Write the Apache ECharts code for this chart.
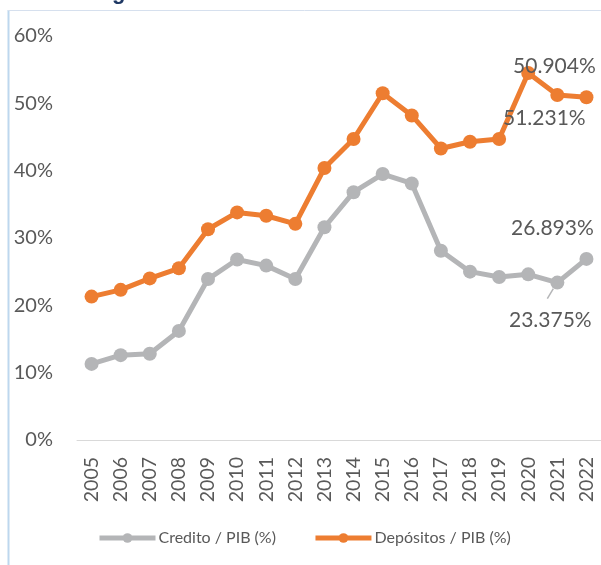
<!DOCTYPE html>
<html>
<head>
<meta charset="utf-8">
<script src="https://cdn.jsdelivr.net/npm/echarts@6/dist/echarts.min.js"></script>
<style>
html,body{margin:0;padding:0;background:#fff;}
#chart{width:601px;height:565px;}
</style>
</head>
<body>
<div id="chart"></div>
<script>
const years = ['2005','2006','2007','2008','2009','2010','2011','2012','2013','2014','2015','2016','2017','2018','2019','2020','2021','2022'];
const credito = [11.3, 12.6, 12.8, 16.2, 23.9, 26.8, 25.9, 23.9, 31.6, 36.8, 39.5, 38.1, 28.1, 25.0, 24.2, 24.6, 23.375, 26.893];
const depositos = [21.3, 22.3, 24.0, 25.5, 31.3, 33.8, 33.3, 32.1, 40.4, 44.7, 51.5, 48.2, 43.3, 44.3, 44.7, 54.5, 51.231, 50.904];
const yTicks = [0, 10, 20, 30, 40, 50, 60];

const FONT = 'Lato';
const TXT = '#595959';
const GRAY = '#B4B5B7';
const ORANGE = '#ED7D31';

function labelled(values, offsets) {
  return values.map((v, i) => {
    const off = offsets[i];
    if (!off) return v;
    return {
      value: v,
      label: {
        show: true,
        position: 'inside',
        offset: off,
        formatter: (p) => p.value.toFixed(3) + '%',
        color: TXT,
        fontFamily: FONT,
        fontSize: 21
      }
    };
  });
}

const chart = echarts.init(document.getElementById('chart'), null, {renderer: 'canvas'});
const baseGraphic = [
  {type: 'line', shape: {x1: 8.5, y1: 10, x2: 8.5, y2: 565}, style: {stroke: '#BDD7EE', lineWidth: 2}},
  {type: 'line', shape: {x1: 8, y1: 10.5, x2: 601, y2: 10.5}, style: {stroke: '#D6E0EE', lineWidth: 1}},
  {type: 'text', x: 112, y: -18, style: {text: 'g', font: 'bold 22px "Liberation Sans"', fill: '#1F3864', textVerticalAlign: 'top'}}
];
chart.setOption({
  animation: false,
  backgroundColor: '#fff',
  grid: {left: 77, right: -6, top: 36, bottom: 125},
  xAxis: {
    type: 'category',
    data: years,
    boundaryGap: true,
    axisLine: {show: true, lineStyle: {color: '#D9D9D9', width: 1}},
    axisTick: {show: false},
    axisLabel: {rotate: 90, margin: 17, color: TXT, fontFamily: FONT, fontSize: 19.5, interval: 0}
  },
  yAxis: {
    type: 'value',
    min: yTicks[0],
    max: yTicks[yTicks.length - 1],
    interval: 10,
    axisLine: {show: false},
    axisTick: {show: false},
    splitLine: {show: false},
    axisLabel: {margin: 24, color: TXT, fontFamily: FONT, fontSize: 20, formatter: '{value}%'}
  },
  legend: {
    left: 97,
    top: 530,
    padding: 0,
    itemWidth: 56,
    itemHeight: 12,
    itemGap: 37,
    lineStyle: {width: 5},
    textStyle: {color: TXT, fontFamily: FONT, fontSize: 16, padding: [0, 0, 0, -2]},
    data: ['Credito / PIB (%)', 'Depósitos / PIB (%)']
  },
  series: [
    {
      name: 'Credito / PIB (%)',
      type: 'line',
      data: labelled(credito, {16: [-7, 38], 17: [-34, -31]}),
      symbol: 'circle',
      symbolSize: 14,
      color: GRAY,
      lineStyle: {width: 5, color: GRAY},
      itemStyle: {color: GRAY},
      z: 2
    },
    {
      name: 'Depósitos / PIB (%)',
      type: 'line',
      data: labelled(depositos, {16: [-13, 23], 17: [-32, -31]}),
      symbol: 'circle',
      symbolSize: 14,
      color: ORANGE,
      lineStyle: {width: 5, color: ORANGE},
      itemStyle: {color: ORANGE},
      z: 3
    }
  ],
  graphic: baseGraphic
});
// leader line for the 2021 credit label, anchored through the chart's own scale
const p = chart.convertToPixel({seriesIndex: 0}, [16, credito[16]]);
chart.setOption({
  graphic: baseGraphic.concat([
    {type: 'line', shape: {x1: p[0] - 10, y1: p[1] + 16, x2: p[0] - 4, y2: p[1] + 6}, style: {stroke: GRAY, lineWidth: 1.5}}
  ])
});
</script>
</body>
</html>
